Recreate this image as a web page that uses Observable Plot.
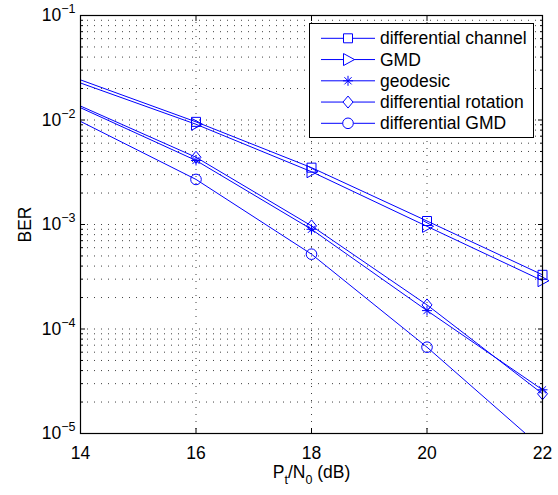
<!DOCTYPE html>
<html><head><meta charset="utf-8">
<script src="https://cdn.jsdelivr.net/npm/d3@7"></script>
<script src="https://cdn.jsdelivr.net/npm/@observablehq/plot@0.6"></script>
<style>body{margin:0;background:#fff} #chart{position:relative;width:558px;height:495px}</style>
</head><body><div id="chart"></div>
<script>
// ---- data ----
const snr = [14, 16, 18, 20, 22];
const seriesNames = ["differential channel", "GMD", "geodesic", "differential rotation", "differential GMD"];
const berDiffChannel  = [0.0242, 0.0096, 0.0035, 0.00108, 0.00033];
const berGMD          = [0.0226, 0.0091, 0.0032, 0.00096, 0.00029];
const berGeodesic     = [0.0131, 0.0041, 0.00090, 0.000150, 0.0000262];
const berDiffRotation = [0.0136, 0.0044, 0.00097, 0.000170, 0.0000240];
const berDiffGMD      = [0.0097, 0.0027, 0.00052, 0.000067, 0.0000072];
const xTicks = [14, 16, 18, 20, 22];
const yDecades = [1e-5, 1e-4, 1e-3, 1e-2, 1e-1];
const yTickLabels = ["10^{-5}", "10^{-4}", "10^{-3}", "10^{-2}", "10^{-1}"];
const xLabel = "P_t/N_0 (dB)";
const yLabel = "BER";

const seriesValues = [berDiffChannel, berGMD, berGeodesic, berDiffRotation, berDiffGMD];
const yMinor = [];
yDecades.slice(0, -1).forEach(d => { for (let k = 2; k <= 9; k++) yMinor.push(d * k); });

const blue = "#0000ff";
const symbols = [
  {draw(c){c.moveTo(-4.5,-4.5);c.lineTo(4.5,-4.5);c.lineTo(4.5,4.5);c.lineTo(-4.5,4.5);c.closePath();}},
  {draw(c){c.moveTo(-4.5,-6);c.lineTo(6.5,0);c.lineTo(-4.5,6);c.closePath();}},
  {draw(c){const a=5,b=3.6;c.moveTo(-a,0);c.lineTo(a,0);c.moveTo(0,-a);c.lineTo(0,a);c.moveTo(-b,-b);c.lineTo(b,b);c.moveTo(-b,b);c.lineTo(b,-b);}},
  {draw(c){c.moveTo(0,-6);c.lineTo(5,0);c.lineTo(0,6);c.lineTo(-5,0);c.closePath();}},
  {draw(c){c.moveTo(5.3,0);c.arc(0,0,5.3,0,2*Math.PI);c.closePath();}}
];

const seriesRows = seriesValues.map((vals, i) => snr.map((x, j) => ({series: seriesNames[i], snr: x, ber: vals[j]})));

const gridStyle = {stroke: "#000", strokeOpacity: 0.75, strokeDasharray: "1,6"};
const marks = [
  Plot.gridX(xTicks, gridStyle),
  Plot.gridY([...yDecades, ...yMinor], gridStyle)
];
seriesRows.forEach((rows, i) => {
  marks.push(Plot.line(rows, {x: "snr", y: "ber", stroke: blue, strokeWidth: 1, clip: true}));
  marks.push(Plot.dot(rows.filter(r => r.snr >= 16 && r.ber >= 1e-5), {x: "snr", y: "ber", symbol: symbols[i], r: 5, stroke: blue, strokeWidth: 1, fill: "none"}));
});
marks.push(
  Plot.frame({stroke: "#000", strokeWidth: 1.2}),
  Plot.axisX(xTicks, {anchor: "bottom", tickSize: -5, tickFormat: () => "", label: null}),
  Plot.axisX(xTicks, {anchor: "top", tickSize: -5, tickFormat: () => "", label: null}),
  Plot.axisY(yDecades, {anchor: "left", tickSize: -5, tickFormat: () => "", label: null}),
  Plot.axisY(yDecades, {anchor: "right", tickSize: -5, tickFormat: () => "", label: null}),
  Plot.axisY(yMinor, {anchor: "left", tickSize: -3, tickFormat: () => "", label: null}),
  Plot.axisY(yMinor, {anchor: "right", tickSize: -3, tickFormat: () => "", label: null}),
  Plot.axisX(xTicks, {anchor: "bottom", tickSize: 0, tickPadding: 13, tickFormat: d => String(d), label: xLabel, labelAnchor: "center", labelOffset: 44, labelArrow: "none"}),
  Plot.axisY(yDecades, {anchor: "left", tickSize: 0, tickPadding: 5, tickFormat: d => yTickLabels[yDecades.indexOf(d)], label: yLabel, labelAnchor: "center", labelOffset: 62, labelArrow: "none"})
);

const chart = Plot.plot({
  width: 558, height: 495,
  marginLeft: 80, marginRight: 16, marginTop: 15, marginBottom: 62,
  x: {domain: [14, 22]},
  y: {type: "log", domain: [1e-5, 1e-1]},
  style: {fontFamily: "'Liberation Sans', Arial, sans-serif", fontSize: "17.5px", background: "white", color: "black"},
  marks
});
document.getElementById("chart").appendChild(chart);

// rich text: ^{..} superscript, _x subscript
const NS = "http://www.w3.org/2000/svg";
function richText(el, s) {
  const re = /([_^])(\{[^}]*\}|.)/g;
  const parts = []; let last = 0, m;
  while ((m = re.exec(s))) {
    if (m.index > last) parts.push({t: s.slice(last, m.index), k: 0});
    parts.push({t: m[2].replace(/^\{|\}$/g, "").replace(/-/g, "\u2212"), k: m[1] === "^" ? -1 : 1});
    last = re.lastIndex;
  }
  if (last < s.length) parts.push({t: s.slice(last), k: 0});
  while (el.firstChild) el.removeChild(el.firstChild);
  let cur = 0;
  for (const p of parts) {
    const ts = document.createElementNS(NS, "tspan");
    const target = p.k === -1 ? -8 : p.k === 1 ? 6 : 0;
    ts.setAttribute("dy", target - cur); cur = target;
    if (p.k) ts.setAttribute("font-size", "12.5px");
    ts.textContent = p.t;
    el.appendChild(ts);
  }
}
d3.select(chart).selectAll("text").each(function() {
  const s = this.textContent;
  if (s.includes("^") || s.includes("_")) richText(this, s);
});

// legend
const lg = d3.select(chart).append("g").attr("font-size", "17.5px").attr("text-anchor", "start");
lg.append("rect").attr("x", 309.5).attr("y", 23.5).attr("width", 224).attr("height", 114).attr("fill", "white").attr("stroke", "black");
seriesNames.forEach((name, i) => {
  const y = 38.3 + i * 21.25;
  lg.append("line").attr("x1", 321).attr("x2", 375).attr("y1", y).attr("y2", y).attr("stroke", blue);
  lg.append("path").attr("d", d3.symbol(symbols[i])()).attr("transform", `translate(348,${y})`).attr("fill", "white").attr("stroke", blue);
  lg.append("text").attr("x", 380).attr("y", y).attr("dy", "0.35em").attr("fill", "black").attr("text-anchor", "start").text(name);
});
</script>
</body></html>
